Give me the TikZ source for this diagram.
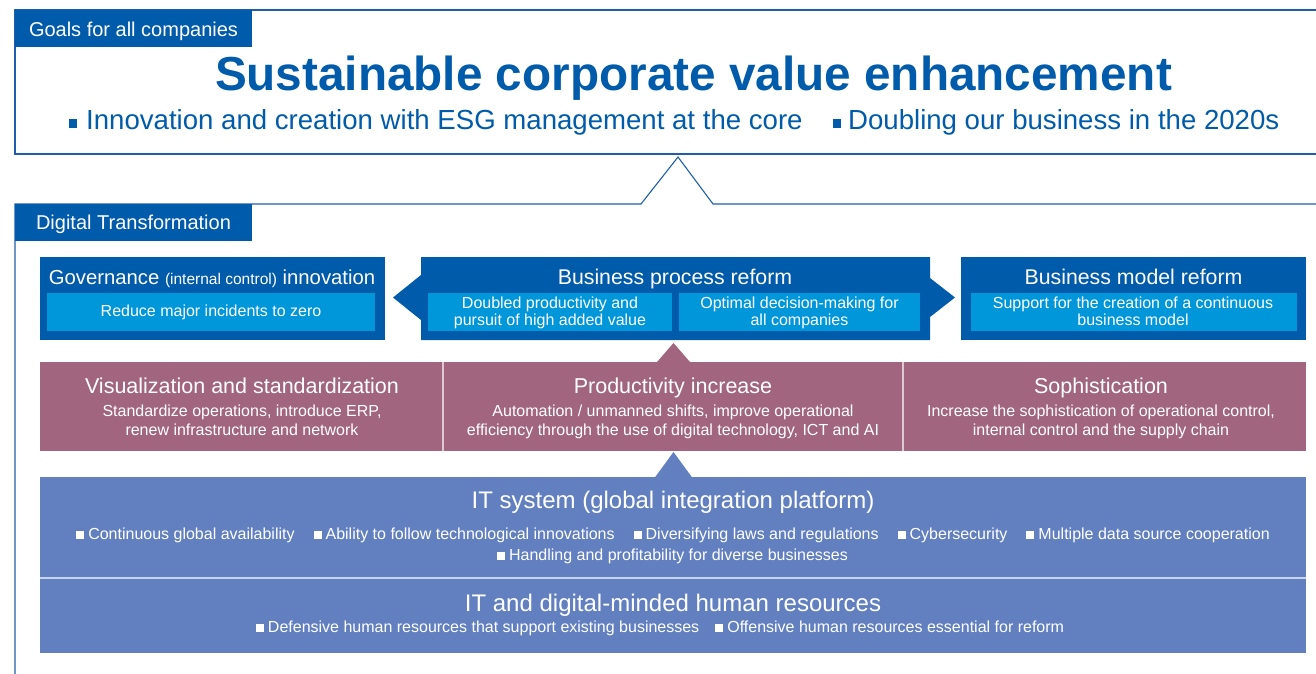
\documentclass[tikz,border=0pt]{standalone}
\usepackage{fontspec}
\setmainfont{Liberation Sans}
\definecolor{dkblue}{RGB}{0,91,170}
\definecolor{ltblue}{RGB}{0,150,218}
\definecolor{purp}{RGB}{161,101,128}
\definecolor{bpurp}{RGB}{98,128,192}
\definecolor{lineblue}{RGB}{30,95,170}
\definecolor{purpdiv}{RGB}{222,200,210}
\definecolor{bpurpdiv}{RGB}{200,212,236}
\newcommand\fsz[2]{\fontsize{#1pt}{#2pt}\selectfont}
\newcommand\sqb{{\color{dkblue}\rule[1.5pt]{8.5pt}{8.5pt}}}
\newcommand\sqw{{\color{white}\rule[0.8pt]{8pt}{8pt}}\hspace{4pt}}
\begin{document}
\begin{tikzpicture}[x=1pt,y=-1pt,
  every node/.style={inner sep=0pt, outer sep=0pt, anchor=base},
  outline/.style={draw=lineblue, line width=1.1pt},
  wtxt/.style={text=white},
  btitle/.style={text=white, font=\fsz{21.3}{25}},
  ptitle/.style={text=white, font=\fsz{21.5}{25}},
  small/.style={text=white, font=\fsz{16}{19}},
  bull/.style={text=white, font=\fsz{16}{19}},
  big/.style={text=white, font=\fsz{24}{28}}]
\useasboundingbox (0,0) rectangle (1316,673);

% ---- goals box
\draw[outline] (1320,10) -- (15,10) -- (15,154) -- (1320,154);
\fill[dkblue] (15,10) rectangle (252,47);
\node[wtxt, font=\fsz{20}{24}] (goalslbl) at (133.5,36) {Goals for all companies};
\node[text=dkblue, font=\fsz{47.7}{57}\bfseries] (title) at (693.5,90) {Sustainable corporate value enhancement};
\node[text=dkblue, font=\fsz{27.6}{33}] (goals) at (674,129) {\sqb\hspace{9pt}Innovation and creation with ESG management at the core\hspace{30pt}\sqb\hspace{7pt}Doubling our business in the 2020s};

% ---- DX box
\draw[outline] (1320,204) -- (713,204) -- (678,157) -- (641,204) -- (15,204) -- (15,680);
\fill[dkblue] (15,204) rectangle (252,241);
\node[wtxt, font=\fsz{20}{24}] (dxlbl) at (133.5,229) {Digital Transformation};

% ---- row 1
\fill[dkblue] (40,257) rectangle (385,340);
\fill[dkblue] (421,257) -- (930,257) -- (930,278) -- (955,297.5) -- (930,317) -- (930,340)
  -- (421,340) -- (421,320) -- (393,297.5) -- (421,275) -- cycle;
\fill[dkblue] (961,257) rectangle (1306,340);
\fill[ltblue] (47,293) rectangle (375,331);
\fill[ltblue] (428,293) rectangle (672,331);
\fill[ltblue] (679,293) rectangle (920,331);
\fill[ltblue] (971,293) rectangle (1297,331);

\node[text=white, font=\fsz{20.3}{25}] (gov) at (212,284.5) {Governance {\fsz{15.5}{19}(internal control)} innovation};
\node[btitle] (bpr) at (675,284.5) {Business process reform};
\node[btitle] (bmr) at (1133.5,284.5) {Business model reform};
\node[small] (govt) at (211,316.5) {Reduce major incidents to zero};
\node[small] (bpr1a) at (550,308.5) {Doubled productivity and};
\node[small] (bpr1b) at (550,325.5) {pursuit of high added value};
\node[small] (bpr2a) at (799.5,308.5) {Optimal decision-making for};
\node[small] (bpr2b) at (799.5,325.5) {all companies};
\node[small] (bmra) at (1133,308.5) {Support for the creation of a continuous};
\node[small] (bmrb) at (1133,325.5) {business model};

% ---- row 2
\fill[purp] (657,362) -- (673.5,343) -- (690,362) -- cycle;
\fill[purp] (40,362) rectangle (1306,451);
\draw[purpdiv, line width=1.3pt] (443,362) -- (443,451);
\draw[purpdiv, line width=1.3pt] (903,362) -- (903,451);
\node[ptitle] (vis) at (242,393.5) {Visualization and standardization};
\node[ptitle] (prod) at (673,393.5) {Productivity increase};
\node[ptitle] (soph) at (1101,393.5) {Sophistication};
\node[small] (visa) at (242,416.5) {Standardize operations, introduce ERP,};
\node[small] (visb) at (242,435.5) {renew infrastructure and network};
\node[small] (proda) at (673,416.5) {Automation / unmanned shifts, improve operational};
\node[small] (prodb) at (673,435.5) {efficiency through the use of digital technology, ICT and AI};
\node[small] (sopha) at (1101,416.5) {Increase the sophistication of operational control,};
\node[small] (sophb) at (1101,435.5) {internal control and the supply chain};

% ---- row 3
\fill[bpurp] (654.5,478) -- (673.5,452) -- (692.5,478) -- cycle;
\fill[bpurp] (40,477) rectangle (1306,653);
\draw[bpurpdiv, line width=1.3pt] (40,578) -- (1306,578);
\node[big] (its) at (673,508.6) {IT system (global integration platform)};
\node[bull] (itsa) at (673,539.7) {\sqw Continuous global availability\hspace{19pt}\sqw Ability to follow technological innovations\hspace{19pt}\sqw Diversifying laws and regulations\hspace{19pt}\sqw Cybersecurity\hspace{19pt}\sqw Multiple data source cooperation};
\node[bull] (itsb) at (672.5,560.7) {\sqw Handling and profitability for diverse businesses};
\node[big] (hr) at (673,611.6) {IT and digital-minded human resources};
\node[bull] (hra) at (660,632.7) {\sqw Defensive human resources that support existing businesses\hspace{16pt}\sqw Offensive human resources essential for reform};
\end{tikzpicture}
\end{document}
